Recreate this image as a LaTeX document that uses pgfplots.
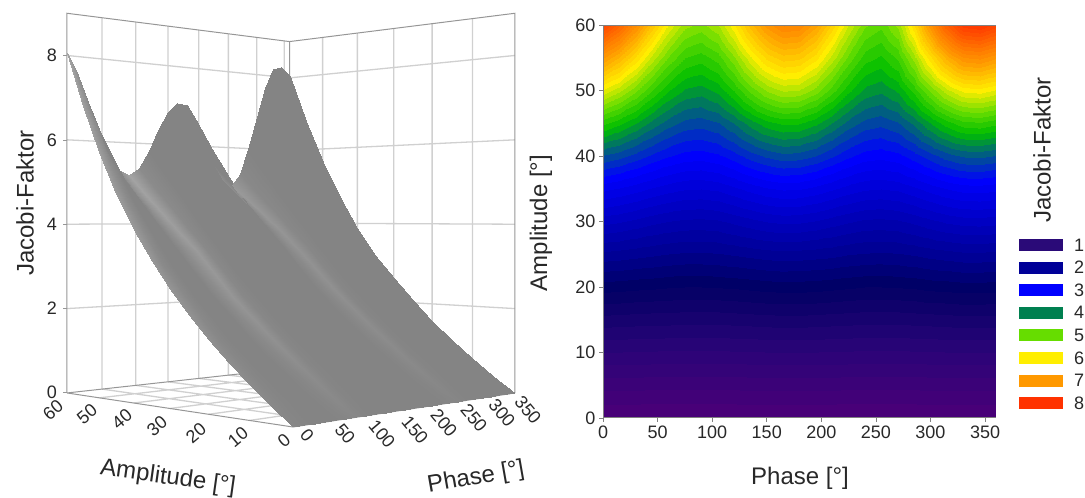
\documentclass[border=0pt]{standalone}
\usepackage{pgfplots}
\usepackage{pgfplotstable}
\usepackage{fontspec}
\setmainfont{Liberation Sans}
\pgfplotsset{compat=1.18}
\definecolor{txt}{RGB}{40,40,40}
\definecolor{gridc}{RGB}{208,208,208}
\definecolor{edgec}{RGB}{150,150,150}
\newcommand\TF{\fontsize{18}{20}\selectfont\color{txt}}
\newcommand\LF{\fontsize{24}{26}\selectfont\color{txt}}
\pgfplotsset{
  colormap={jacobi}{
    rgb255(0)=(72,0,120) rgb255(7)=(42,4,120) rgb255(15)=(0,0,100) rgb255(20)=(0,0,150)
    rgb255(34)=(0,0,255) rgb255(37)=(0,50,190) rgb255(41)=(0,115,100) rgb255(45)=(0,190,0)
    rgb255(51)=(102,221,0) rgb255(58)=(255,238,0) rgb255(68)=(255,153,0) rgb255(84)=(255,50,0)
  },
  colormap={shade}{gray(0)=(0.42) gray(1)=(0.78)}
}
\pgfplotstableread[row sep=\\]{
p a z\\
360 60 8.05\\345 60 8.28\\330 60 8.20\\315 60 7.67\\300 60 6.86\\285 60 5.99\\270 60 5.30\\255 60 5.00\\240 60 5.13\\225 60 5.54\\210 60 6.11\\195 60 6.66\\180 60 7.03\\165 60 7.08\\150 60 6.83\\135 60 6.37\\120 60 5.83\\105 60 5.39\\90 60 5.20\\75 60 5.31\\60 60 5.68\\45 60 6.27\\30 60 6.94\\15 60 7.57\\0 60 8.05\\
360 55 6.77\\345 55 6.94\\330 55 6.88\\315 55 6.51\\300 55 5.94\\285 55 5.32\\270 55 4.83\\255 55 4.62\\240 55 4.72\\225 55 5.04\\210 55 5.48\\195 55 5.91\\180 55 6.19\\165 55 6.23\\150 55 6.04\\135 55 5.66\\120 55 5.22\\105 55 4.87\\90 55 4.72\\75 55 4.80\\60 55 5.07\\45 55 5.49\\30 55 5.97\\15 55 6.43\\0 55 6.77\\
360 50 5.66\\345 50 5.77\\330 50 5.73\\315 50 5.49\\300 50 5.11\\285 50 4.70\\270 50 4.37\\255 50 4.23\\240 50 4.30\\225 50 4.53\\210 50 4.86\\195 50 5.17\\180 50 5.38\\165 50 5.41\\150 50 5.26\\135 50 4.98\\120 50 4.65\\105 50 4.39\\90 50 4.27\\75 50 4.32\\60 50 4.50\\45 50 4.79\\30 50 5.12\\15 50 5.43\\0 50 5.66\\
360 45 4.70\\345 45 4.78\\330 45 4.75\\315 45 4.59\\300 45 4.35\\285 45 4.09\\270 45 3.89\\255 45 3.80\\240 45 3.85\\225 45 3.99\\210 45 4.20\\195 45 4.39\\180 45 4.52\\165 45 4.54\\150 45 4.45\\135 45 4.27\\120 45 4.06\\105 45 3.89\\90 45 3.82\\75 45 3.85\\60 45 3.97\\45 45 4.15\\30 45 4.36\\15 45 4.55\\0 45 4.70\\
360 40 3.89\\345 40 3.94\\330 40 3.92\\315 40 3.83\\300 40 3.68\\285 40 3.53\\270 40 3.40\\255 40 3.35\\240 40 3.38\\225 40 3.48\\210 40 3.62\\195 40 3.75\\180 40 3.83\\165 40 3.85\\150 40 3.78\\135 40 3.67\\120 40 3.53\\105 40 3.42\\90 40 3.37\\75 40 3.39\\60 40 3.46\\45 40 3.57\\30 40 3.69\\15 40 3.81\\0 40 3.89\\
360 35 3.19\\345 35 3.22\\330 35 3.21\\315 35 3.15\\300 35 3.06\\285 35 2.96\\270 35 2.88\\255 35 2.85\\240 35 2.87\\225 35 2.93\\210 35 3.02\\195 35 3.10\\180 35 3.16\\165 35 3.17\\150 35 3.13\\135 35 3.05\\120 35 2.96\\105 35 2.88\\90 35 2.85\\75 35 2.86\\60 35 2.91\\45 35 2.98\\30 35 3.06\\15 35 3.13\\0 35 3.19\\
360 30 2.60\\345 30 2.62\\330 30 2.61\\315 30 2.57\\300 30 2.50\\285 30 2.43\\270 30 2.37\\255 30 2.35\\240 30 2.36\\225 30 2.41\\210 30 2.47\\195 30 2.53\\180 30 2.57\\165 30 2.58\\150 30 2.55\\135 30 2.49\\120 30 2.43\\105 30 2.37\\90 30 2.35\\75 30 2.36\\60 30 2.39\\45 30 2.44\\30 30 2.50\\15 30 2.56\\0 30 2.60\\
360 25 2.06\\345 25 2.07\\330 25 2.07\\315 25 2.04\\300 25 2.01\\285 25 1.97\\270 25 1.94\\255 25 1.93\\240 25 1.94\\225 25 1.96\\210 25 2.00\\195 25 2.02\\180 25 2.04\\165 25 2.05\\150 25 2.03\\135 25 2.00\\120 25 1.97\\105 25 1.94\\90 25 1.93\\75 25 1.93\\60 25 1.95\\45 25 1.98\\30 25 2.01\\15 25 2.04\\0 25 2.06\\
360 20 1.57\\345 20 1.58\\330 20 1.58\\315 20 1.56\\300 20 1.55\\285 20 1.52\\270 20 1.51\\255 20 1.50\\240 20 1.50\\225 20 1.52\\210 20 1.54\\195 20 1.56\\180 20 1.57\\165 20 1.57\\150 20 1.56\\135 20 1.54\\120 20 1.52\\105 20 1.51\\90 20 1.50\\75 20 1.50\\60 20 1.51\\45 20 1.53\\30 20 1.54\\15 20 1.56\\0 20 1.57\\
360 15 1.14\\345 15 1.14\\330 15 1.14\\315 15 1.13\\300 15 1.12\\285 15 1.11\\270 15 1.10\\255 15 1.10\\240 15 1.10\\225 15 1.11\\210 15 1.12\\195 15 1.13\\180 15 1.14\\165 15 1.14\\150 15 1.13\\135 15 1.12\\120 15 1.11\\105 15 1.10\\90 15 1.10\\75 15 1.10\\60 15 1.11\\45 15 1.11\\30 15 1.12\\15 15 1.13\\0 15 1.14\\
360 10 0.74\\345 10 0.74\\330 10 0.74\\315 10 0.74\\300 10 0.73\\285 10 0.73\\270 10 0.72\\255 10 0.72\\240 10 0.72\\225 10 0.73\\210 10 0.73\\195 10 0.74\\180 10 0.74\\165 10 0.74\\150 10 0.74\\135 10 0.73\\120 10 0.73\\105 10 0.72\\90 10 0.72\\75 10 0.72\\60 10 0.72\\45 10 0.73\\30 10 0.73\\15 10 0.74\\0 10 0.74\\
360 5 0.36\\345 5 0.36\\330 5 0.36\\315 5 0.36\\300 5 0.36\\285 5 0.35\\270 5 0.35\\255 5 0.35\\240 5 0.35\\225 5 0.35\\210 5 0.36\\195 5 0.36\\180 5 0.36\\165 5 0.36\\150 5 0.36\\135 5 0.36\\120 5 0.35\\105 5 0.35\\90 5 0.35\\75 5 0.35\\60 5 0.35\\45 5 0.35\\30 5 0.36\\15 5 0.36\\0 5 0.36\\
360 0 0.00\\345 0 0.00\\330 0 0.00\\315 0 0.00\\300 0 0.00\\285 0 0.00\\270 0 0.00\\255 0 0.00\\240 0 0.00\\225 0 0.00\\210 0 0.00\\195 0 0.00\\180 0 0.00\\165 0 0.00\\150 0 0.00\\135 0 0.00\\120 0 0.00\\105 0 0.00\\90 0 0.00\\75 0 0.00\\60 0 0.00\\45 0 0.00\\30 0 0.00\\15 0 0.00\\0 0 0.00\\
}\jacobi
% perspective of the left box, in picture pixels
\def\PW{(1+0.193*(\thisrow{p}/360+\thisrow{a}/60))}
\def\PX{((293+321.4*\thisrow{p}/360-213.1*\thisrow{a}/60)/\PW)}
\def\PY{(498-(427+41.8*(\thisrow{p}/360+\thisrow{a}/60)-50.33*\thisrow{z})/\PW)}
\begin{document}
\begin{tikzpicture}[x=1pt,y=1pt]
\useasboundingbox (0,0) rectangle (1085,498);
\begin{axis}[at={(0pt,0pt)},anchor=south west,scale only axis,width=560pt,height=498pt,
  xmin=0,xmax=560,ymin=0,ymax=498,zmin=-1,zmax=1,view={0}{90},hide axis,clip=false]
\addplot3[gridc,line width=1.3pt,empty line=jump,no markers] table[x expr=\PX,y expr=\PY,z expr=0] {
p a z
50 60 0
50 60 9

100 60 0
100 60 9

150 60 0
150 60 9

200 60 0
200 60 9

250 60 0
250 60 9

300 60 0
300 60 9

350 60 0
350 60 9

360 50 0
360 50 9

360 40 0
360 40 9

360 30 0
360 30 9

360 20 0
360 20 9

360 10 0
360 10 9

0 60 2
360 60 2
360 0 2

0 60 4
360 60 4
360 0 4

0 60 6
360 60 6
360 0 6

0 60 8
360 60 8
360 0 8

50 0 0
50 60 0

100 0 0
100 60 0

150 0 0
150 60 0

200 0 0
200 60 0

250 0 0
250 60 0

300 0 0
300 60 0

350 0 0
350 60 0

0 10 0
360 10 0

0 20 0
360 20 0

0 30 0
360 30 0

0 40 0
360 40 0

0 50 0
360 50 0
};
\addplot3[edgec,line width=1pt,empty line=jump,no markers] table[x expr=\PX,y expr=\PY,z expr=0] {
p a z
0 60 0
0 60 9
360 60 9
360 0 9
360 0 0

360 60 9
360 60 0

0 60 0
0 0 0
360 0 0

0 60 0
360 60 0
360 0 0
};
\addplot3[surf,shader=interp,colormap name=shade,mesh/cols=25,mesh/rows=13,
  point meta min=0,point meta max=1,
  point meta={0.27+(0.12+\thisrow{a}/60)*(0.32*exp(-((\thisrow{p}-88)/14)^2)+0.22*exp(-((\thisrow{p}-253)/14)^2)+0.3*exp(-(\thisrow{p}/14)^2))}]
  table[x expr=\PX,y expr=\PY,z expr=0] {\jacobi};
\end{axis}
\begin{axis}[at={(603pt,80pt)},anchor=origin,scale only axis,width=393pt,height=393pt,
  xmin=0,xmax=360,ymin=0,ymax=60,view={0}{90},
  xtick={0,50,...,350},ytick={0,10,...,60},
  /pgf/number format/assume math mode=true,
  tick label style={font=\TF},
  axis line style={edgec!85!black,line width=1pt},
  tick style={edgec!85!black,line width=0.8pt},
  tick align=outside,major tick length=4pt,
  axis x line*=bottom,axis y line*=left,
  colormap name=jacobi,point meta min=0,point meta max=8.4]
\addplot3[contour filled={number=56},mesh/cols=25,mesh/rows=13,point meta=\thisrow{z}]
  table[x=p,y=a,z=z] {\jacobi};
\draw[edgec!85!black,line width=1pt] (rel axis cs:0,1) -- (rel axis cs:1,1);
\end{axis}
% left panel tick labels
\foreach \y in {106,190,274,358,443}{\draw[edgec,line width=0.8pt] (63,\y) -- (67,\y);}
\foreach \t/\y in {0/106,2/190,4/274,6/358,8/443}{\node[anchor=east,inner sep=0pt] at (57,\y) {\TF\t};}
\foreach \t/\x/\y in {60/53/88,50/87/84,40/122/79,30/157/72,20/196/65,10/238/61,0/284/57}{\node[rotate=40,inner sep=0pt] at (\x,\y) {\TF\t};}
\foreach \t/\x/\y in {0/307/63,50/345/64,100/382/64,150/415/68,200/444/75,250/474/80,300/502/85,350/528/88}{\node[rotate=-50,inner sep=0pt] at (\x,\y) {\TF\t};}
\node[rotate=90,inner sep=0pt] at (25,295) {\LF Jacobi-Faktor};
\node[rotate=-8,inner sep=0pt] at (168,20) {\LF Amplitude [°]};
\node[rotate=10,inner sep=0pt] at (476,20) {\LF Phase [°]};
% right panel axis titles
\node[inner sep=0pt] at (800,20) {\LF Phase [°]};
\node[rotate=90,inner sep=0pt] at (541,275) {\LF Amplitude [°]};
% legend
\node[rotate=90,inner sep=0pt] at (1042,348) {\LF Jacobi-Faktor};
\foreach \n/\c/\y [count=\i] in {1/{42,10,120}/253,2/{0,0,152}/230.4,3/{0,0,255}/207.8,4/{0,128,80}/185.2,5/{102,221,0}/162.6,6/{255,238,0}/140,7/{255,153,0}/117.4,8/{255,50,0}/94.8}{
  \definecolor{lg}{RGB}{\c}
  \fill[lg] (1019,\y-6) rectangle (1063,\y+6);
  \node[inner sep=0pt] at (1079,\y) {\TF\n};
}
\end{tikzpicture}
\end{document}
